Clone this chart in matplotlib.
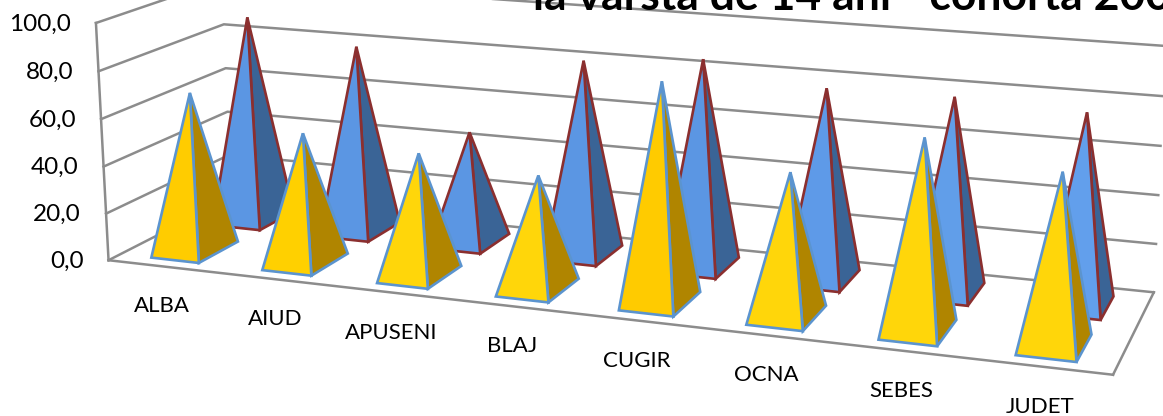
import numpy as np
import matplotlib
matplotlib.use('Agg')
import matplotlib.pyplot as plt
from matplotlib.patches import Polygon

categories = ['ALBA', 'AIUD', 'APUSENI', 'BLAJ', 'CUGIR', 'OCNA', 'SEBES', 'JUDET']
front_values = [67.5, 54.7, 50.8, 46.3, 88.4, 57.0, 75.0, 66.5]
back_values = [89.9, 80.7, 47.7, 82.3, 86.8, 78.8, 79.4, 77.4]
y_ticks = [0, 20, 40, 60, 80, 100]
title = 'la vârsta de 14 ani - cohorta 2008'

front_colors = ['#ffcc00', '#ffd000', '#ffd60a', '#ffd60a', '#ffcb00', '#ffd60a', '#ffd60a', '#ffd60a']
back_colors = ['#5b96e3', '#5b96e3', '#5b96e3', '#5b96e3', '#5b96e3', '#5e9ae8', '#619ee9', '#629fec']

plt.rcParams['font.family'] = ['Lato', 'DejaVu Sans']

# corners of the chart box: (category pos, depth, value / 100) -> pixel
world = [(0, 0, 0), (1, 0, 0), (1, 1, 0), (0, 1, 0), (0, 0, 1), (0, 1, 1), (1, 1, 1)]
pixel = [(109.5, 260), (1113, 375), (1154, 292), (230, 198), (95, 23), (223, -20), (1165, 46)]


def fit_camera(world, pixel):
    rows, rhs = [], []
    for (a, b, c), (x, y) in zip(world, pixel):
        rows.append([a, b, c, 1, 0, 0, 0, 0, -x * a, -x * b, -x * c])
        rows.append([0, 0, 0, 0, a, b, c, 1, -y * a, -y * b, -y * c])
        rhs += [x, y]
    m = np.linalg.lstsq(np.array(rows, float), np.array(rhs, float), rcond=None)[0]
    return np.append(m, 1).reshape(3, 4)


camera = fit_camera(world, pixel)


def project(u, d, value):
    p = camera @ np.array([u, d, value / 100, 1])
    return p[0] / p[2], p[1] / p[2]


def pyramid(ax, i, value, d0, d1, half_w, front, side, edge, zorder):
    uc = (i + 0.5) / len(categories)
    fl = project(uc - half_w, d0, 0)
    fr = project(uc + half_w, d0, 0)
    br = project(uc + half_w, d1, 0)
    top = project(uc + 0.002, (d0 + d1) / 2, value)
    for pts, color in [([fr, br, top], side), ([fl, fr, top], front)]:
        ax.add_patch(Polygon(pts, closed=True, facecolor=color, edgecolor=edge, lw=1.9,
                             joinstyle='miter', zorder=zorder))


fig = plt.figure(figsize=(11.63, 4.16), dpi=100)
ax = fig.add_axes([0, 0, 1, 1])
ax.set_xlim(0, 1163)
ax.set_ylim(416, 0)
ax.axis('off')

grid = '#8c8c8c'
for t in y_ticks:
    a, b, c = project(0, 0, t), project(0, 1, t), project(1, 1, t)
    ax.plot([a[0], b[0], c[0]], [a[1], b[1], c[1]], color=grid, lw=1.8, zorder=1)
    ax.text(a[0] - 25, a[1] + 1, f'{t:.1f}'.replace('.', ','), ha='right', va='center',
            fontsize=17.5, color='black')

edges = [((0, 0, 0), (1, 0, 0)), ((1, 0, 0), (1, 1, 0)), ((0, 0, 0), (0, 0, 100))]
for p, q in edges:
    a, b = project(*p), project(*q)
    ax.plot([a[0], b[0]], [a[1], b[1]], color=grid, lw=1.8, zorder=1)

for i, v in enumerate(back_values):
    pyramid(ax, i, v, 0.59, 0.895, 0.028, back_colors[i], '#3a6496', '#8b2f2f', 3)
for i, v in enumerate(front_values):
    pyramid(ax, i, v, 0.09, 0.41, 0.027, front_colors[i], '#b08500', '#5b94cf', 4 + i)

for i, name in enumerate(categories):
    x, y = project((i + 0.5) / len(categories), 0, 0)
    ax.text(x - 1, y + 40, name, ha='center', va='center', fontsize=16, color='black')

ax.text(533, 9.5, title, ha='left', va='baseline', fontsize=32, fontweight='bold', color='black')

fig.savefig('out.png', dpi=100)
